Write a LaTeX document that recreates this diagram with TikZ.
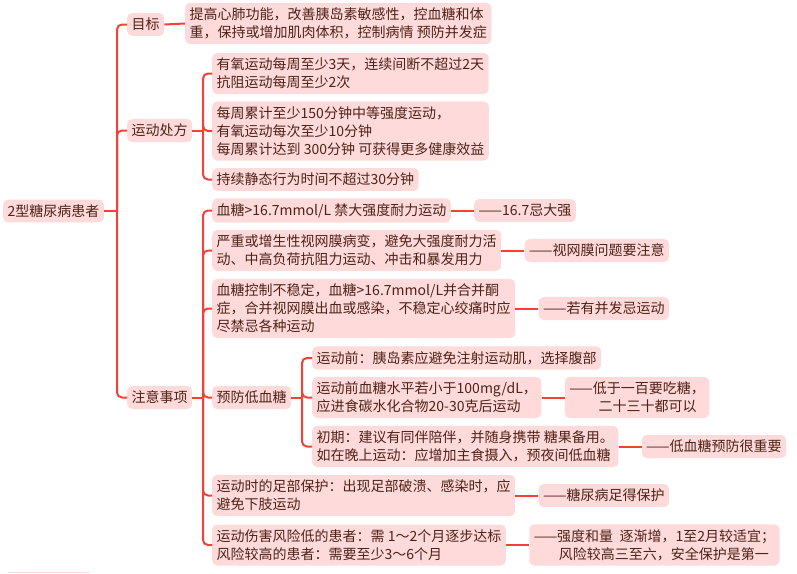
\documentclass[tikz,border=0pt]{standalone}
\usepackage{fontspec}
\setmainfont{Noto Sans CJK SC}
\usetikzlibrary{positioning}
\definecolor{linered}{RGB}{245,64,56}
\definecolor{boxpink}{RGB}{255,218,218}
\definecolor{inkbrown}{RGB}{78,34,24}

\begin{document}
\begin{tikzpicture}[x=1pt, y=-1pt, node distance=23pt,
    box/.style={fill=boxpink, rounded corners=5pt, inner xsep=4.5pt, inner ysep=5pt,
      align=left, anchor=west, text=inkbrown, font=\fontsize{14}{18}\selectfont},
    link/.style={draw=linered, line width=2pt, rounded corners=5pt}]
    \useasboundingbox (0,0) rectangle (797,573);
    % root and first level
    \node[box] (root) at (3,211) {2型糖尿病患者};
    \node[box] (goal) at (127,24.5) {目标};
    \node[box] (rx) at (127,130.5) {运动处方};
    \node[box] (care) at (127,397.5) {注意事项};
    \node[box] (goaltxt) at (185,23.5) {提高心肺功能，改善胰岛素敏感性，控血糖和体\\重，保持或增加肌肉体积，控制病情 预防并发症};
    % exercise prescription
    \node[box] (rx1) at (212,73.5) {有氧运动每周至少3天，连续间断不超过2天\\抗阻运动每周至少2次};
    \node[box] (rx2) at (212,131) {每周累计至少150分钟中等强度运动，\\有氧运动每次至少10分钟\\每周累计达到 300分钟 可获得更多健康效益};
    \node[box] (rx3) at (212,179.5) {持续静态行为时间不超过30分钟};
    % cautions
    \node[box] (c1) at (212,210.5) {血糖>16.7mmol/L 禁大强度耐力运动};
    \node[box] (c2) at (212,250.5) {严重或增生性视网膜病变，避免大强度耐力活\\动、中高负荷抗阻力运动、冲击和暴发用力};
    \node[box] (c3) at (212,308.5) {血糖控制不稳定，血糖>16.7mmol/L并合并酮\\症，合并视网膜出血或感染，不稳定心绞痛时应\\尽禁忌各种运动};
    \node[box] (c4) at (212,397.5) {预防低血糖};
    \node[box] (c5) at (212,495.5) {运动时的足部保护：出现足部破溃、感染时，应\\避免下肢运动};
    \node[box] (c6) at (212,545) {运动伤害风险低的患者：需 1～2个月逐步达标\\风险较高的患者：需要至少3～6个月};
    % hypoglycaemia
    \node[box] (h1) at (312,358) {运动前：胰岛素应避免注射运动肌，选择腹部};
    \node[box] (h2) at (312,397.5) {运动前血糖水平若小于100mg/dL，\\应进食碳水化合物20-30克后运动};
    \node[box] (h3) at (312,446.5) {初期：建议有同伴陪伴，并随身携带 糖果备用。\\如在晚上运动：应增加主食摄入，预夜间低血糖};
    % notes
    \node[box, right=of c1] (n1) {——16.7忌大强};
    \node[box, right=of c2] (n2) {——视网膜问题要注意};
    \node[box, right=of c3] (n3) {——若有并发忌运动};
    \node[box, right=of h2] (n4) {——低于一百要吃糖，\\\hspace*{2.1em}二十三十都可以};
    \node[box, right=of h3] (n5) {——低血糖预防很重要};
    \node[box, right=of c5] (n6) {——糖尿病足得保护};
    \node[box, right=of c6] (n7) {——强度和量\ \ 逐渐增，1至2月较适宜；\\\hspace*{1.8em}风险较高三至六，安全保护是第一};
    % junctions
    \coordinate (j0) at (117,211);
    \coordinate (j1) at (203,130.5);
    \coordinate (j2) at (203,397.5);
    \coordinate (j3) at (302,397.5);
    \draw[link] (root.east) -- (j0);
    \draw[link] (j0) |- (goal.west);
    \draw[link] (j0) |- (rx.west);
    \draw[link] (j0) |- (care.west);
    \draw[link] (goal.east) -- (goaltxt.west);
    \draw[link] (rx.east) -- (j1);
    \foreach \k in {rx1,rx2,rx3}
      \draw[link] (j1) |- (\k.west);
    \draw[link] (care.east) -- (j2);
    \foreach \k in {c1,c2,c3,c4,c5,c6}
      \draw[link] (j2) |- (\k.west);
    \draw[link] (c4.east) -- (j3);
    \foreach \k in {h1,h2,h3}
      \draw[link] (j3) |- (\k.west);
    \draw[link] (c1.east) -- (n1.west);
    \draw[link] (c2.east) -- (n2.west);
    \draw[link] (c3.east) -- (n3.west);
    \draw[link] (h2.east) -- (n4.west);
    \draw[link] (h3.east) -- (n5.west);
    \draw[link] (c5.east) -- (n6.west);
    \draw[link] (c6.east) -- (n7.west);
    \fill[boxpink] (8,571.5) rectangle (90,573);
\end{tikzpicture}
\end{document}
